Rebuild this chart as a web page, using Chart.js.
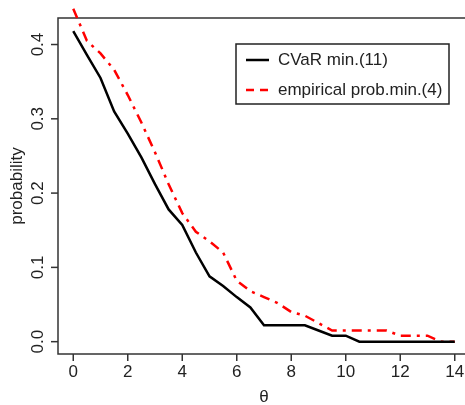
<!DOCTYPE html>
<html><head><meta charset="utf-8">
<script src="https://cdn.jsdelivr.net/npm/chart.js@4"></script>
<style>
html,body{margin:0;padding:0;overflow:hidden;background:#fff;width:465px;height:405px}
#wrap{position:absolute;left:0;top:0;width:480px;height:405px}
</style></head>
<body><div id="wrap"><canvas id="c" width="480" height="405"></canvas></div>
<script>
const theta = [0,0.5,1,1.5,2,2.5,3,3.5,4,4.5,5,5.5,6,6.5,7,7.5,8,8.5,9,9.5,10,10.5,11,11.5,12,12.5,13,13.5,14];
const cvarMin = [0.418,0.386,0.355,0.310,0.280,0.248,0.212,0.178,0.157,0.120,0.088,0.075,0.060,0.046,0.022,0.022,0.022,0.022,0.015,0.008,0.008,0,0,0,0,0,0,0,0];
const empMin = [0.448,0.405,0.388,0.366,0.332,0.295,0.255,0.212,0.173,0.148,0.135,0.120,0.082,0.068,0.060,0.052,0.040,0.035,0.025,0.015,0.015,0.015,0.015,0.015,0.008,0.008,0.008,0,0];
const xTicks = [0,2,4,6,8,10,12,14];
const yTicks = [0.0,0.1,0.2,0.3,0.4];
const yTickLabels = ['0.0','0.1','0.2','0.3','0.4'];
const seriesLabels = ['CVaR min.(11)','empirical prob.min.(4)'];
const xTitle = 'θ';
const yTitle = 'probability';

const FONT = '"Liberation Sans", Arial, sans-serif';
const AX = '#333333';

const axesPlugin = {
  id: 'rAxes',
  beforeDatasetsDraw(chart) {
    const ctx = chart.ctx, a = chart.chartArea;
    const xs = chart.scales.x, ys = chart.scales.y;
    ctx.save();
    ctx.strokeStyle = AX; ctx.lineWidth = 1.5;
    ctx.strokeRect(a.left, a.top, a.right - a.left, a.bottom - a.top);
    ctx.fillStyle = '#222';
    ctx.font = '17px ' + FONT;
    ctx.textAlign = 'center'; ctx.textBaseline = 'middle';
    xTicks.forEach(v => {
      const px = xs.getPixelForValue(v);
      ctx.beginPath(); ctx.moveTo(px, a.bottom); ctx.lineTo(px, a.bottom + 7); ctx.stroke();
      ctx.fillText(String(v), px, a.bottom + 18);
    });
    yTicks.forEach((v, i) => {
      const py = ys.getPixelForValue(v);
      ctx.beginPath(); ctx.moveTo(a.left, py); ctx.lineTo(a.left - 7, py); ctx.stroke();
      ctx.save(); ctx.translate(a.left - 20, py); ctx.rotate(-Math.PI / 2);
      ctx.fillText(yTickLabels[i], 0, 0); ctx.restore();
    });
    ctx.font = '17px ' + FONT;
    ctx.fillText(xTitle, (a.left + a.right) / 2, 397);
    ctx.save(); ctx.translate(17, (a.top + a.bottom) / 2); ctx.rotate(-Math.PI / 2);
    ctx.fillText(yTitle, 0, 0); ctx.restore();
    ctx.restore();
  },
  afterDraw(chart) {
    const ctx = chart.ctx;
    ctx.save();
    ctx.fillStyle = '#fff';
    ctx.fillRect(236, 44, 213, 60);
    ctx.strokeStyle = '#222'; ctx.lineWidth = 1.5;
    ctx.strokeRect(236, 44, 213, 60);
    ctx.font = '17px ' + FONT; ctx.textAlign = 'left'; ctx.textBaseline = 'middle';
    chart.data.datasets.forEach((ds, i) => {
      const y = 60 + i * 30;
      ctx.strokeStyle = ds.borderColor; ctx.lineWidth = 2.5;
      ctx.setLineDash(i === 0 ? [] : [8, 6]);
      ctx.beginPath(); ctx.moveTo(246, y); ctx.lineTo(269, y); ctx.stroke();
      ctx.setLineDash([]);
      ctx.fillStyle = '#222';
      ctx.fillText(ds.label, 278, y);
    });
    ctx.restore();
  }
};

new Chart(document.getElementById('c'), {
  type: 'line',
  data: {
    datasets: [
      { label: seriesLabels[0], data: theta.map((t, i) => ({x: t, y: cvarMin[i]})),
        borderColor: '#000000', borderWidth: 2.5, pointRadius: 0, tension: 0, clip: false },
      { label: seriesLabels[1], data: theta.map((t, i) => ({x: t, y: empMin[i]})),
        borderColor: '#ff0000', borderWidth: 2.5, pointRadius: 0, tension: 0, clip: false,
        borderDash: [10, 6, 3, 6] }
    ]
  },
  options: {
    responsive: false, animation: false, devicePixelRatio: 1,
    layout: { padding: { left: 58, top: 18, right: 10, bottom: 51 } },
    scales: {
      x: { type: 'linear', min: -0.56, max: 14.56, display: false },
      y: { type: 'linear', min: -0.0166, max: 0.4357, display: false }
    },
    plugins: { legend: { display: false }, tooltip: { enabled: false } }
  },
  plugins: [axesPlugin]
});
</script>
</body></html>
